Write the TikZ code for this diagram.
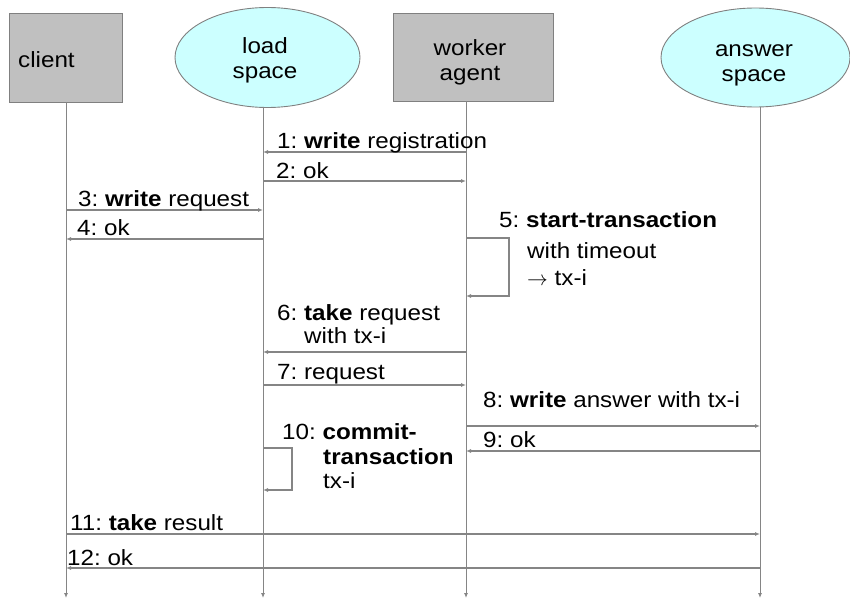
\documentclass[tikz,border=0pt]{standalone}
\usepackage{fontspec}
\setmainfont{Liberation Sans}[FakeStretch=1.1]
\usetikzlibrary{arrows.meta,shapes.geometric}
\frenchspacing

\definecolor{boxfill}{HTML}{C0C0C0}
\definecolor{edge}{HTML}{808080}
\definecolor{spacefill}{HTML}{CCFFFF}
\definecolor{linegray}{HTML}{858585}

\begin{document}
\begin{tikzpicture}[x=1pt,y=-1pt,
  font=\fontsize{22}{28}\selectfont\frenchspacing,
  actor/.style={draw=edge, fill=boxfill, line width=0.9pt, inner sep=0pt},
  tspace/.style={ellipse, draw=edge, fill=spacefill, line width=0.9pt, inner sep=0pt},
  head/.style={align=center, inner sep=0pt, font=\fontsize{22}{25}\selectfont},
  life/.style={draw=linegray, line width=0.9pt, -{Latex[length=5pt,width=4pt]}},
  msg/.style={draw=linegray, line width=1.2pt, -{Latex[length=5pt,width=4pt]}},
  loopline/.style={draw=linegray, line width=1.2pt, -{Latex[length=5pt,width=4pt]}},
  lbl/.style={anchor=base west, inner sep=0pt}]

\useasboundingbox (0,0) rectangle (850,599);

% participants
\node[actor, minimum width=113pt, minimum height=89pt] (client) at (65.5,57.5) {};
\node[lbl] (clientlbl) at (18,68) {client};
\node[tspace, minimum width=185pt, minimum height=100pt] (load) at (267.5,57.5) {};
\node[head] (loadlbl) at (265,60) {load\\space};
\node[actor, minimum width=160pt, minimum height=88pt] (worker) at (473,57) {};
\node[head] (workerlbl) at (470,62) {worker\\agent};
\node[tspace, minimum width=189pt, minimum height=99pt] (answer) at (755.5,57.5) {};
\node[head] (answerlbl) at (754,65) {answer\\space};

% lifelines
\coordinate (cl) at (66,102);
\coordinate (lo) at (263,107);
\coordinate (wo) at (466,101);
\coordinate (an) at (760,107);
\coordinate (clend) at (66,598);
\coordinate (loend) at (263,598);
\coordinate (woend) at (466,598);
\coordinate (anend) at (760,598);
\draw[life] (cl) -- (clend);
\draw[life] (lo) -- (loend);
\draw[life] (wo) -- (woend);
\draw[life] (an) -- (anend);

% 1, 2
\draw[msg] (wo |- 0,152) -- (lo |- 0,152);
\node[lbl] (m1) at (277,148) {1: \textbf{write} registration};
\draw[msg] (lo |- 0,181) -- (wo |- 0,181);
\node[lbl] (m2) at (276,178) {2: ok};

% 3, 4
\draw[msg] (cl |- 0,210) -- (lo |- 0,210);
\node[lbl] (m3) at (78,206) {3: \textbf{write} request};
\draw[msg] (lo |- 0,239) -- (cl |- 0,239);
\node[lbl] (m4) at (77,235) {4: ok};

% 5: self call on the worker
\draw[loopline] (wo |- 0,238) -- (509,238) -- (509,296) -- (wo |- 0,296);
\node[lbl] (m5a) at (499,227) {5: \textbf{start-transaction}};
\node[lbl] (m5b) at (527,258) {with timeout};
\node[lbl] (m5c) at (527,285) {$\rightarrow$ tx-i};

% 6, 7
\draw[msg] (wo |- 0,352) -- (lo |- 0,352);
\node[lbl] (m6a) at (277,320) {6: \textbf{take} request};
\node[lbl] (m6b) at (304,343) {with tx-i};
\draw[msg] (lo |- 0,385) -- (wo |- 0,385);
\node[lbl] (m7) at (277,379) {7: request};

% 8, 9
\draw[msg] (wo |- 0,426) -- (an |- 0,426);
\node[lbl] (m8) at (483,407) {8: \textbf{write} answer with tx-i};
\draw[msg] (an |- 0,451) -- (wo |- 0,451);
\node[lbl] (m9) at (483,447) {9: ok};

% 10: self call on the load space
\draw[loopline] (lo |- 0,448) -- (292,448) -- (292,490) -- (lo |- 0,490);
\node[lbl] (m10a) at (282,439) {10: \textbf{commit-}};
\node[lbl] (m10b) at (323,464) {\textbf{transaction}};
\node[lbl] (m10c) at (323,488) {tx-i};

% 11, 12
\draw[msg] (cl |- 0,534) -- (an |- 0,534);
\node[lbl] (m11) at (70,530) {11: \textbf{take} result};
\draw[msg] (an |- 0,568) -- (cl |- 0,568);
\node[lbl] (m12) at (67,565) {12: ok};

\end{tikzpicture}
\end{document}
